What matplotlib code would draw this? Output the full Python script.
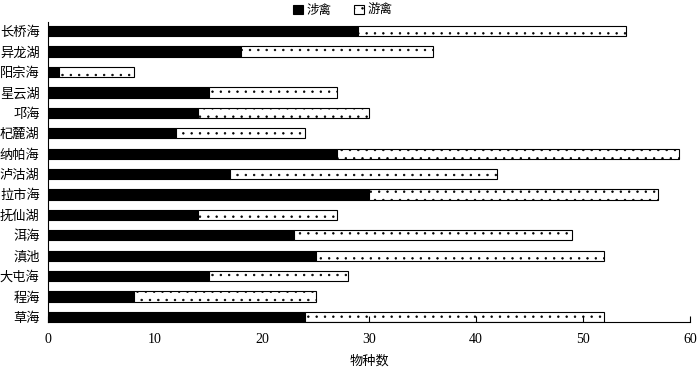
import matplotlib
matplotlib.use("Agg")
import matplotlib.pyplot as plt
import numpy as np

plt.rcParams['font.family'] = ['Liberation Serif', 'Noto Sans CJK SC']
plt.rcParams['hatch.linewidth'] = 0.5

lakes = ["长桥海", "异龙湖", "阳宗海", "星云湖", "邛海", "杞麓湖", "纳帕海", "泸沽湖",
         "拉市海", "抚仙湖", "洱海", "滇池", "大屯海", "程海", "草海"]
wading = [29, 18, 1, 15, 14, 12, 27, 17, 30, 14, 23, 25, 15, 8, 24]
swimming = [25, 18, 7, 12, 16, 12, 32, 25, 27, 13, 26, 27, 13, 17, 28]
xticks = [0, 10, 20, 30, 40, 50, 60]

fig = plt.figure(figsize=(7.0, 3.71), dpi=100)
ax = fig.add_axes([48/700, 49/371, 642/700, 300/371])

y = np.arange(len(lakes))[::-1]
ax.barh(y, wading, height=0.5, color='black', edgecolor='black', linewidth=0.8, label='涉禽')
ax.barh(y, swimming, left=wading, height=0.5, color='white', edgecolor='black',
        linewidth=0.8, hatch='..', label='游禽')

ax.set_yticks(y)
ax.set_yticklabels(lakes, fontsize=9.5, family=['Noto Sans CJK SC'])
ax.set_xticks(xticks)
ax.set_xticklabels([str(t) for t in xticks], fontsize=10)
ax.set_xlim(0, 60)
ax.set_ylim(-0.25, 14.45)
ax.tick_params(axis='y', length=0, pad=6)
ax.tick_params(axis='x', direction='in', length=4, pad=8)
for s in ['top', 'right']:
    ax.spines[s].set_visible(False)
ax.spines['left'].set_linewidth(0.8)
ax.spines['bottom'].set_linewidth(0.8)
ax.set_xlabel('物种数', fontsize=9.5, family=['Noto Sans CJK SC'], labelpad=6)

leg = fig.legend(loc='upper center', bbox_to_anchor=(0.49, 1.02), ncol=2, frameon=False,
                 handlelength=0.8, handleheight=0.8, handletextpad=0.3, columnspacing=1.8,
                 prop={'family': ['Noto Sans CJK SC'], 'size': 9})

fig.savefig('out.png', dpi=100)
